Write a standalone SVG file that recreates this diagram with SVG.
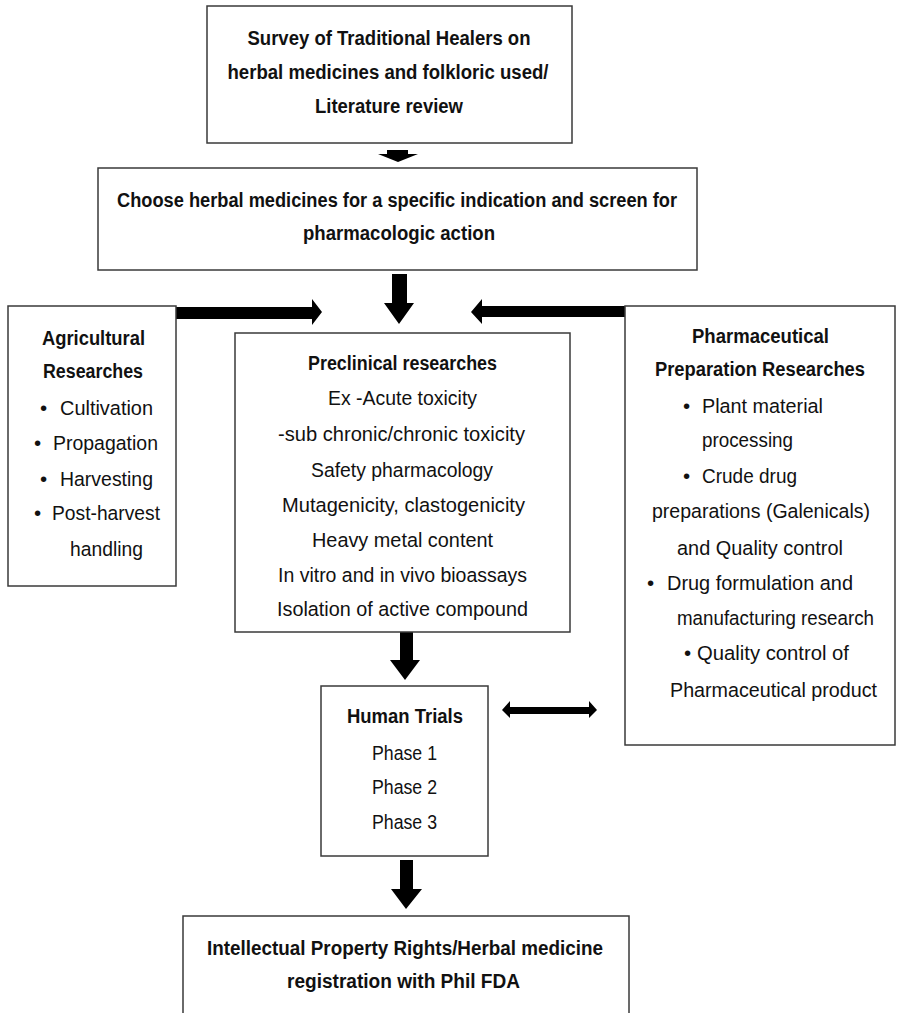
<svg xmlns="http://www.w3.org/2000/svg" width="898" height="1013" viewBox="0 0 898 1013">
<style>
.box{fill:#fff;stroke:#3a3a3a;stroke-width:1.5}
.b{font-family:"Liberation Sans",Arial,sans-serif;font-weight:bold;font-size:20px;fill:#111}
.r{font-family:"Liberation Sans",Arial,sans-serif;font-size:20.5px;fill:#111}
.c{text-anchor:middle}
.arr{fill:#000}
</style>
<rect width="898" height="1013" fill="#fff"/>
<g id="connectors">
<polygon class="arr" points="387,150 408,150 408,154 418,154 398,162 378,154 387,154"/>
<polygon class="arr" points="392,274 407,274 407,303 414,303 399,324 384,303 392,303"/>
<polygon class="arr" points="176,307 312,307 312,299 322,312 312,325 312,319 176,319"/>
<polygon class="arr" points="625,306 482,306 482,299 471,312 482,324 482,317 625,317"/>
<polygon class="arr" points="400,632 413,632 413,660 420,660 405,680 390,660 400,660"/>
<polygon class="arr" points="502,710 510,701 510,707 589,707 589,701 597,710 589,718 589,714 510,714 510,718"/>
<polygon class="arr" points="400,860 413,860 413,889 422,889 406,909 391,889 400,889"/>
</g>
<g id="survey">
<rect class="box" x="207" y="6" width="365" height="137"/>
<text class="b c" x="389" y="45" textLength="283" lengthAdjust="spacingAndGlyphs">Survey of Traditional Healers on</text>
<text class="b c" x="388" y="79" textLength="321" lengthAdjust="spacingAndGlyphs">herbal medicines and folkloric used/</text>
<text class="b c" x="389" y="113" textLength="148" lengthAdjust="spacingAndGlyphs">Literature review</text>
</g>
<g id="choose">
<rect class="box" x="98" y="168" width="599" height="102"/>
<text class="b c" x="397" y="207" textLength="560" lengthAdjust="spacingAndGlyphs">Choose herbal medicines for a specific indication and screen for</text>
<text class="b c" x="399" y="240" textLength="192" lengthAdjust="spacingAndGlyphs">pharmacologic action</text>
</g>
<g id="agricultural">
<rect class="box" x="8" y="306" width="168" height="280"/>
<text class="b c" x="93.5" y="345" textLength="103" lengthAdjust="spacingAndGlyphs">Agricultural</text>
<text class="b c" x="93" y="378" textLength="100" lengthAdjust="spacingAndGlyphs">Researches</text>
<text class="r" x="40" y="415">•</text><text class="r" x="60" y="415" textLength="93" lengthAdjust="spacingAndGlyphs">Cultivation</text>
<text class="r" x="34" y="450">•</text><text class="r" x="53" y="450" textLength="105" lengthAdjust="spacingAndGlyphs">Propagation</text>
<text class="r" x="40" y="486">•</text><text class="r" x="60" y="486" textLength="93" lengthAdjust="spacingAndGlyphs">Harvesting</text>
<text class="r" x="34" y="520">•</text><text class="r" x="52" y="520" textLength="108" lengthAdjust="spacingAndGlyphs">Post-harvest</text>
<text class="r" x="70" y="556" textLength="73" lengthAdjust="spacingAndGlyphs">handling</text>
</g>
<g id="preclinical">
<rect class="box" x="235" y="333" width="335" height="299"/>
<text class="b c" x="402.5" y="370" textLength="189" lengthAdjust="spacingAndGlyphs">Preclinical researches</text>
<text class="r c" x="402.5" y="405" textLength="149" lengthAdjust="spacingAndGlyphs">Ex -Acute toxicity</text>
<text class="r c" x="401.5" y="441" textLength="247" lengthAdjust="spacingAndGlyphs">-sub chronic/chronic toxicity</text>
<text class="r c" x="402" y="477" textLength="182" lengthAdjust="spacingAndGlyphs">Safety pharmacology</text>
<text class="r c" x="403.5" y="512" textLength="243" lengthAdjust="spacingAndGlyphs">Mutagenicity, clastogenicity</text>
<text class="r c" x="402.5" y="547" textLength="181" lengthAdjust="spacingAndGlyphs">Heavy metal content</text>
<text class="r c" x="402.5" y="582" textLength="249" lengthAdjust="spacingAndGlyphs">In vitro and in vivo bioassays</text>
<text class="r c" x="402.5" y="616" textLength="251" lengthAdjust="spacingAndGlyphs">Isolation of active compound</text>
</g>
<g id="pharmaceutical">
<rect class="box" x="625" y="306" width="270" height="439"/>
<text class="b c" x="760.5" y="343" textLength="137" lengthAdjust="spacingAndGlyphs">Pharmaceutical</text>
<text class="b c" x="760" y="376" textLength="210" lengthAdjust="spacingAndGlyphs">Preparation Researches</text>
<text class="r" x="683" y="413">•</text><text class="r" x="702" y="413" textLength="121" lengthAdjust="spacingAndGlyphs">Plant material</text>
<text class="r" x="702" y="447" textLength="91" lengthAdjust="spacingAndGlyphs">processing</text>
<text class="r" x="683" y="483">•</text><text class="r" x="702" y="483" textLength="95" lengthAdjust="spacingAndGlyphs">Crude drug</text>
<text class="r" x="652" y="518" textLength="218" lengthAdjust="spacingAndGlyphs">preparations (Galenicals)</text>
<text class="r" x="677" y="555" textLength="166" lengthAdjust="spacingAndGlyphs">and Quality control</text>
<text class="r" x="647" y="590">•</text><text class="r" x="667" y="590" textLength="186" lengthAdjust="spacingAndGlyphs">Drug formulation and</text>
<text class="r" x="677" y="625" textLength="197" lengthAdjust="spacingAndGlyphs">manufacturing research</text>
<text class="r" x="684" y="660">•</text><text class="r" x="697" y="660" textLength="152" lengthAdjust="spacingAndGlyphs">Quality control of</text>
<text class="r" x="670" y="697" textLength="207" lengthAdjust="spacingAndGlyphs">Pharmaceutical product</text>
</g>
<g id="human-trials">
<rect class="box" x="321" y="686" width="167" height="170"/>
<text class="b c" x="405" y="723" textLength="116" lengthAdjust="spacingAndGlyphs">Human Trials</text>
<text class="r c" x="404.5" y="760" textLength="65" lengthAdjust="spacingAndGlyphs">Phase 1</text>
<text class="r c" x="404.5" y="794" textLength="65" lengthAdjust="spacingAndGlyphs">Phase 2</text>
<text class="r c" x="404.5" y="829" textLength="65" lengthAdjust="spacingAndGlyphs">Phase 3</text>
</g>
<g id="registration">
<rect class="box" x="183" y="916" width="446" height="110"/>
<text class="b c" x="405" y="955" textLength="396" lengthAdjust="spacingAndGlyphs">Intellectual Property Rights/Herbal medicine</text>
<text class="b c" x="403.5" y="988" textLength="233" lengthAdjust="spacingAndGlyphs">registration with Phil FDA</text>
</g>
</svg>
